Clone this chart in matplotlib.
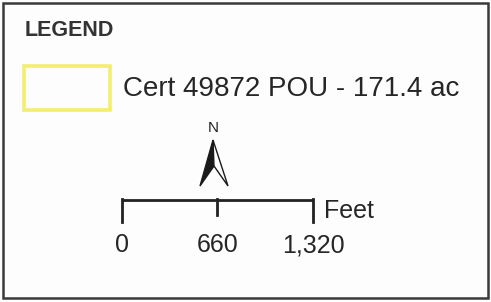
import matplotlib.pyplot as plt
from matplotlib.patches import Rectangle, Polygon

plt.rcParams['font.family'] = ['Liberation Sans', 'DejaVu Sans']

# legend content
title = 'LEGEND'
entry_label = 'Cert 49872 POU - 171.4 ac'
entry_color = '#f4ee70'
scale_ticks = [0, 660, 1320]
scale_labels = ['0', '660', '1,320']
scale_unit = 'Feet'

fig = plt.figure(figsize=(4.91, 3.02), dpi=100)
fig.patch.set_facecolor('#fdfdfd')
ax = fig.add_axes([0, 0, 1, 1])
ax.set_xlim(0, 491)
ax.set_ylim(302, 0)
ax.axis('off')

# outer frame
ax.add_patch(Rectangle((3, 2.5), 485, 295.5, fill=False, ec='#3a3a3a', lw=1.8))

ax.text(25, 31, title, fontsize=15.5, fontweight='bold', color='#333333',
        va='center', ha='left')

# polygon swatch
ax.add_patch(Rectangle((24, 66), 86, 44, fill=False, ec=entry_color, lw=2.6))
ax.text(123, 89, entry_label, fontsize=20, color='#262626', va='center', ha='left')

# north arrow
ax.text(213, 128, 'N', fontsize=11, color='#222222', ha='center', va='center')
tip, left, right, notch = (213, 140), (200, 186), (228, 186), (214, 166)
ax.add_patch(Polygon([tip, left, notch], closed=True, fc='#1a1a1a', ec='#1a1a1a', lw=1))
ax.add_patch(Polygon([tip, notch, right], closed=True, fc='white', ec='#1a1a1a', lw=1))

# scale bar (map feet -> pixels)
x0, x1 = 122, 313
def px(v):
    return x0 + (x1 - x0) * v / scale_ticks[-1]

ax.plot([px(scale_ticks[0]), px(scale_ticks[-1])], [200, 200], color='#222222', lw=2,
        solid_capstyle='butt')
for v, lab in zip(scale_ticks, scale_labels):
    bottom = 215 if v not in (scale_ticks[0], scale_ticks[-1]) else 222
    ax.plot([px(v), px(v)], [199, bottom], color='#222222', lw=2)
    ax.text(px(v), 245, lab, fontsize=18, color='#262626', ha='center', va='center')
ax.text(324, 211, scale_unit, fontsize=18, color='#262626', ha='left', va='center')

fig.savefig('out.png', dpi=100, facecolor=fig.get_facecolor())
